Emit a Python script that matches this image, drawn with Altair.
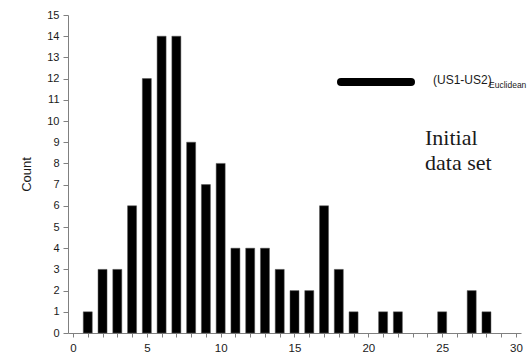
import altair as alt
import pandas as pd

bins = list(range(1, 29))
counts = [1, 3, 3, 6, 12, 14, 14, 9, 7, 8, 4, 4, 4, 3, 2, 2, 6, 3, 1, 0, 1, 1, 0, 0, 1, 0, 2, 1]

df = pd.DataFrame({"x": bins, "count": counts})
df = df[df["count"] > 0]

AX = "#808080"
TXT = "#1a1a1a"

bars = alt.Chart(df).mark_bar(size=9, color="black", stroke="#555", strokeWidth=0.5).encode(
    x=alt.X("x:Q", scale=alt.Scale(domain=[0, 30], nice=False),
            axis=alt.Axis(values=list(range(31)),
                          labelExpr="datum.value % 5 == 0 ? datum.label : ''",
                          title=None, grid=False, domainColor=AX, tickColor=AX,
                          tickSize=4, labelPadding=5, labelFont="Liberation Sans",
                          labelFontSize=11.5, labelColor=TXT, labelFlush=False)),
    y=alt.Y("count:Q", scale=alt.Scale(domain=[0, 15], nice=False),
            axis=alt.Axis(values=list(range(16)), title="Count", grid=False,
                          domainColor=AX, tickColor=AX, tickSize=5, labelPadding=4,
                          labelFont="Liberation Sans", labelFontSize=11, labelColor=TXT,
                          titleFont="Liberation Sans", titleFontSize=13,
                          titleFontWeight="normal", titleColor=TXT, titlePadding=13)),
)

legend_line = alt.Chart(pd.DataFrame({"a": [0]})).mark_rule(
    color="black", strokeWidth=8, strokeCap="round"
).encode(x=alt.value(273), x2=alt.value(343), y=alt.value(67))

legend_text = alt.Chart(pd.DataFrame({"a": [0]})).mark_text(
    text="(US1-US2)", font="Liberation Sans", fontSize=12, color=TXT,
    align="left", baseline="alphabetic"
).encode(x=alt.value(365), y=alt.value(69))

legend_sub = alt.Chart(pd.DataFrame({"a": [0]})).mark_text(
    text="Euclidean", font="Liberation Sans", fontSize=8.5, color=TXT,
    align="left", baseline="alphabetic"
).encode(x=alt.value(421), y=alt.value(73))

note = alt.Chart(pd.DataFrame({"a": [0]})).mark_text(
    text=["Initial", "data set"], font="Liberation Serif", fontSize=22, color=TXT,
    align="left", baseline="alphabetic", lineHeight=25
).encode(x=alt.value(357), y=alt.value(130))

chart = alt.layer(bars, legend_line, legend_text, legend_sub, note).properties(
    width=453, height=318,
    autosize=alt.AutoSizeParams(type="none"),
    padding={"left": 68, "top": 15, "right": 9, "bottom": 27},
    background="white",
).configure_view(stroke=None)

chart.save("out.html", embed_options={"renderer": "svg", "actions": False})
